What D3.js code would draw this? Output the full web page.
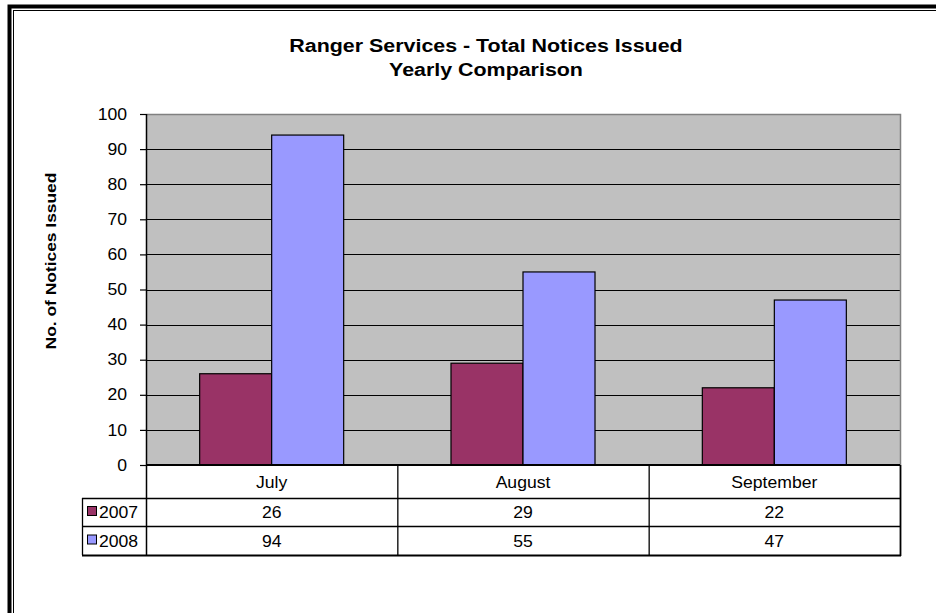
<!DOCTYPE html>
<html>
<head>
<meta charset="utf-8">
<script src="https://cdn.jsdelivr.net/npm/d3@7"></script>
<style>
  html, body { margin: 0; padding: 0; background: #fff; }
  svg { display: block; }
  text { font-family: "Liberation Sans", Arial, sans-serif; fill: #000; }
</style>
</head>
<body>
<svg id="chart" width="936" height="613"></svg>
<script>
// ---- data ----
const categories = ["July", "August", "September"];
const seriesNames = ["2007", "2008"];
const values2007 = [26, 29, 22];
const values2008 = [94, 55, 47];
const yTicks = [0, 10, 20, 30, 40, 50, 60, 70, 80, 90, 100];
const titleLines = ["Ranger Services - Total Notices Issued", "Yearly Comparison"];
const yTitle = "No. of Notices Issued";
const seriesColors = ["#993366", "#9999FF"];

const seriesValues = [values2007, values2008];

// ---- layout ----
const svg = d3.select("#chart");
const plot = { left: 146, right: 900, top: 114, bottom: 465 };
const table = { left: 82, catBottom: 498, row1Bottom: 526, row2Bottom: 555 };

const x = d3.scaleBand().domain(categories).range([plot.left, plot.right]).paddingInner(0).paddingOuter(0);
const bw = x.bandwidth();
const x1 = d3.scaleBand().domain(seriesNames).range([bw * 0.2135, bw * 0.7865]).padding(0);
const y = d3.scaleLinear().domain([0, 100]).range([plot.bottom, plot.top]);

// stretched text helper
function stext(g, str, px, py, size, sx, anchor, weight, rot) {
  const t = g.append("text")
    .attr("transform", `translate(${px},${py})` + (rot ? ` rotate(${rot})` : "") + ` scale(${sx},1)`)
    .attr("text-anchor", anchor)
    .attr("font-size", size + "px")
    .attr("font-weight", weight || "normal")
    .text(str);
  return t;
}

// frame
svg.append("rect").attr("x", 9.5).attr("y", 6.5).attr("width", 1000).attr("height", 1000)
  .attr("fill", "none").attr("stroke", "#000").attr("stroke-width", 4);
svg.append("rect").attr("x", 13.5).attr("y", 10.5).attr("width", 1000).attr("height", 1000)
  .attr("fill", "none").attr("stroke", "#000").attr("stroke-width", 1);

// title
stext(svg, titleLines[0], 486, 52, 18, 1.19, "middle", "bold");
stext(svg, titleLines[1], 486, 76, 18, 1.19, "middle", "bold");

// y title
stext(svg, yTitle, 56, 261, 15, 1.16, "middle", "bold", -90);

// plot background
svg.append("rect").attr("x", plot.left).attr("y", plot.top)
  .attr("width", plot.right - plot.left).attr("height", plot.bottom - plot.top)
  .attr("fill", "#C0C0C0");

// gridlines
svg.append("g").selectAll("line").data(yTicks.filter(d => d > 0 && d < 100)).join("line")
  .attr("x1", plot.left).attr("x2", plot.right)
  .attr("y1", d => Math.round(y(d)) + 0.5).attr("y2", d => Math.round(y(d)) + 0.5)
  .attr("stroke", "#000").attr("stroke-width", 1.2);

// plot border (top/right)
svg.append("path")
  .attr("d", `M${plot.left},${plot.top + 0.5}H${plot.right + 0.5}V${plot.bottom}`)
  .attr("fill", "none").attr("stroke", "#808080").attr("stroke-width", 1.5);

// bars
const groups = svg.append("g").selectAll("g").data(categories).join("g")
  .attr("transform", d => `translate(${x(d)},0)`);
groups.selectAll("rect").data((c, i) => seriesNames.map((s, si) => ({ s, si, v: seriesValues[si][i] }))).join("rect")
  .attr("x", d => x1(d.s))
  .attr("width", x1.bandwidth())
  .attr("y", d => y(d.v))
  .attr("height", d => y(0) - y(d.v))
  .attr("fill", d => seriesColors[d.si])
  .attr("stroke", "#000").attr("stroke-width", 1.2);

// y axis
const yAxis = d3.axisLeft(y).tickValues(yTicks).tickSize(6).tickPadding(13).tickFormat(d3.format("d"));
const yg = svg.append("g").attr("transform", `translate(${plot.left},0)`).call(yAxis);
yg.select(".domain").remove();
yg.selectAll(".tick line").attr("stroke", "#000").attr("stroke-width", 1.2);
yg.selectAll(".tick text").each(function () {
  const t = d3.select(this);
  const xx = +t.attr("x");
  t.attr("font-family", "Liberation Sans, Arial, sans-serif")
   .attr("font-size", "16px").attr("fill", "#000")
   .attr("x", xx / 1.1).attr("transform", "scale(1.1,1)");
});
// axis line extends through table
svg.append("line").attr("x1", plot.left + 0.5).attr("x2", plot.left + 0.5)
  .attr("y1", plot.top).attr("y2", table.row2Bottom)
  .attr("stroke", "#000").attr("stroke-width", 1.5);

// ---- data table ----
const tg = svg.append("g");
const lineStyle = sel => sel.attr("stroke", "#000").attr("stroke-width", 1.3).attr("fill", "none");
// horizontal lines
tg.append("line").attr("x1", plot.left).attr("x2", plot.right).attr("y1", plot.bottom).attr("y2", plot.bottom).call(lineStyle).attr("stroke-width", 2);
[table.catBottom, table.row1Bottom, table.row2Bottom].forEach((yy, i) => {
  tg.append("line").attr("x1", table.left).attr("x2", plot.right + 1).attr("y1", yy + 0.5).attr("y2", yy + 0.5).call(lineStyle)
    .attr("stroke-width", i === 2 ? 1.8 : 1.3);
});
// vertical lines
tg.append("line").attr("x1", table.left + 0.5).attr("x2", table.left + 0.5).attr("y1", table.catBottom).attr("y2", table.row2Bottom).call(lineStyle);
categories.forEach((c, i) => {
  if (i > 0) tg.append("line").attr("x1", x(c) + 0.5).attr("x2", x(c) + 0.5).attr("y1", plot.bottom).attr("y2", table.row2Bottom).call(lineStyle);
});
tg.append("line").attr("x1", plot.right + 0.5).attr("x2", plot.right + 0.5).attr("y1", plot.bottom).attr("y2", table.row2Bottom + 1).call(lineStyle).attr("stroke-width", 1.8);

// category labels
categories.forEach(c => {
  stext(tg, c, x(c) + bw / 2, (plot.bottom + table.catBottom) / 2 + 6, 16, 1.1, "middle");
});
// rows
const rowTops = [table.catBottom, table.row1Bottom];
const rowBottoms = [table.row1Bottom, table.row2Bottom];
seriesNames.forEach((s, si) => {
  const cy = (rowTops[si] + rowBottoms[si]) / 2;
  tg.append("rect").attr("x", 87.5).attr("y", cy - 5.5).attr("width", 9).attr("height", 9)
    .attr("fill", seriesColors[si]).attr("stroke", "#000").attr("stroke-width", 1);
  stext(tg, s, 99, cy + 6, 16, 1.1, "start");
  categories.forEach((c, ci) => {
    stext(tg, String(seriesValues[si][ci]), x(c) + bw / 2, cy + 6, 16, 1.1, "middle");
  });
});
</script>
</body>
</html>
